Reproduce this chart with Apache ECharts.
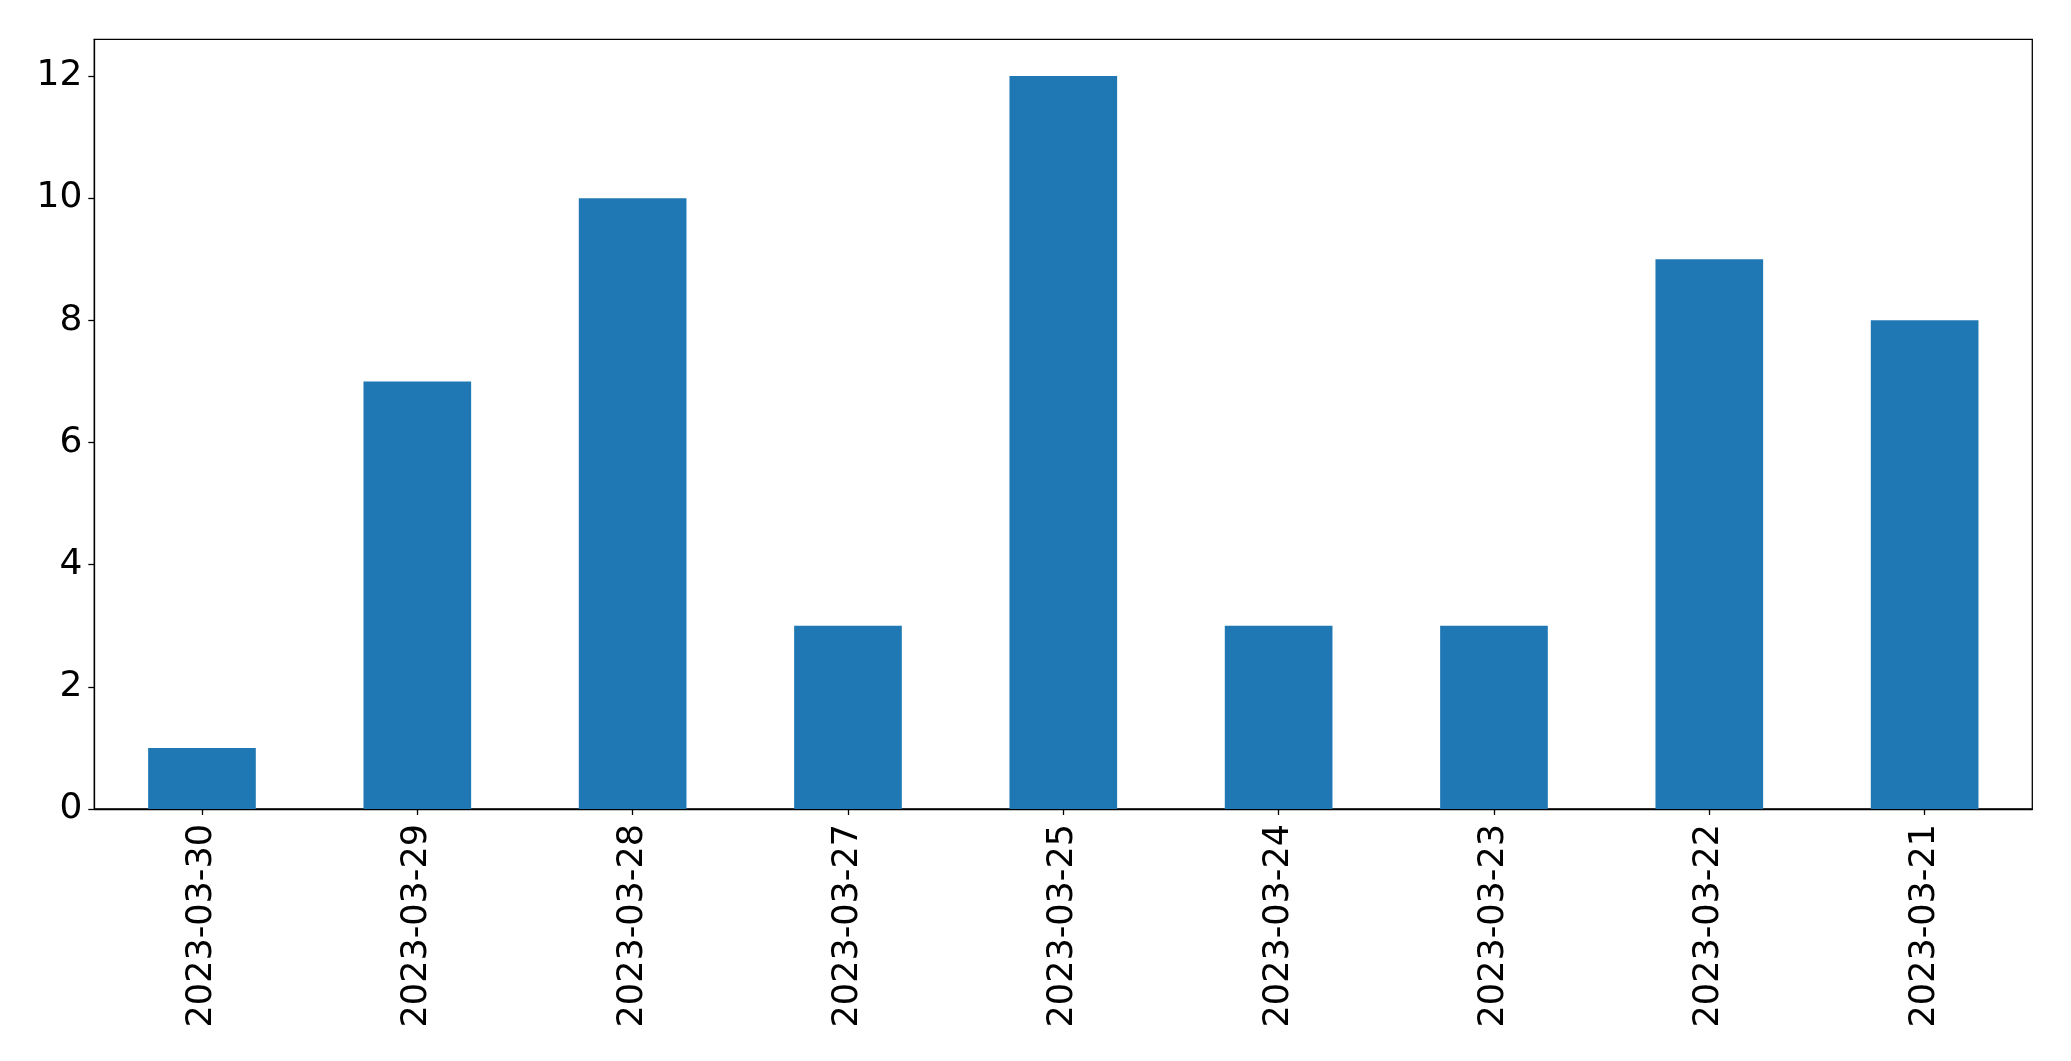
<!DOCTYPE html>
<html><head><meta charset="utf-8">
<script src="https://cdn.jsdelivr.net/npm/echarts@6/dist/echarts.min.js"></script>
<style>html,body{margin:0;padding:0;background:#fff}#c{width:2071px;height:1061px}</style>
</head><body><div id="c"></div>
<script>
const categories = ['2023-03-30','2023-03-29','2023-03-28','2023-03-27','2023-03-25','2023-03-24','2023-03-23','2023-03-22','2023-03-21'];
const counts = [1,7,10,3,12,3,3,9,8];
const yTicks = [0,2,4,6,8,10,12];
const chart = echarts.init(document.getElementById('c'));
chart.setOption({
  animation:false,
  grid:{left:94.3, top:39.3, right:38.7, bottom:252, show:true, borderColor:'#000', borderWidth:1.3, backgroundColor:'transparent'},
  xAxis:{type:'category', data:categories, boundaryGap:true,
    axisLine:{show:true, lineStyle:{color:'#000', width:1.3}},
    axisTick:{show:true, alignWithLabel:true, length:6, lineStyle:{color:'#000', width:1.3}},
    axisLabel:{rotate:90, color:'#000', fontFamily:'DejaVu Sans', fontSize:35, margin:15, interval:0},
    splitLine:{show:false}},
  yAxis:{type:'value', min:0, max:12.6, interval:2,
    axisLine:{show:true, lineStyle:{color:'#000', width:1.3}},
    axisTick:{show:true, length:6, customValues:yTicks, lineStyle:{color:'#000', width:1.3}},
    axisLabel:{color:'#000', fontFamily:'DejaVu Sans', fontSize:36, margin:12, customValues:yTicks},
    splitLine:{show:false}},
  series:[{type:'bar', data:counts, barWidth:'50%', itemStyle:{color:'#1f77b4'}}]
});
</script></body></html>
